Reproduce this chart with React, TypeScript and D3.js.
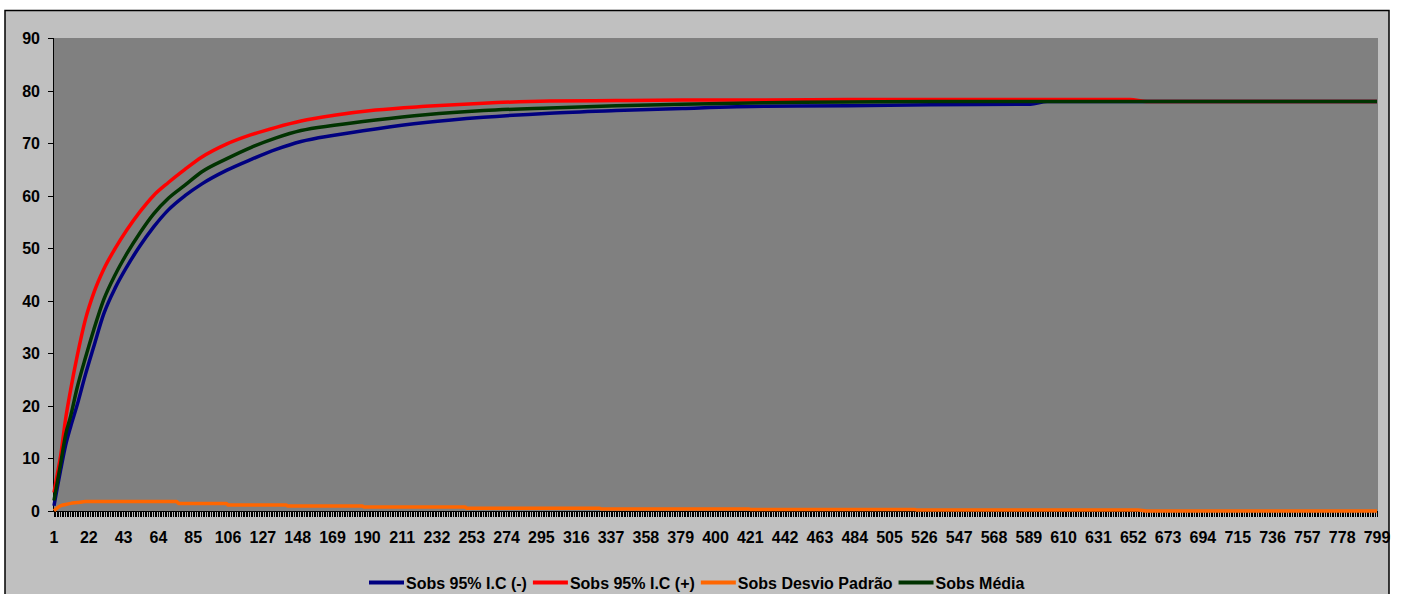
import React, { useEffect, useRef } from 'react';
import * as d3 from 'd3';

const sampleIdx = [1, 3, 5, 8, 11, 15, 20, 25, 31, 38, 45, 53, 61, 70, 80, 90, 105, 120, 135, 150, 170, 195, 225, 260, 300, 340, 380, 430, 480, 530, 590, 600, 650, 660, 720, 799];

const icLower = [1, 4.5, 7.8, 12.5, 16, 20.2, 26, 31.3, 37.5, 42.5, 46.5, 50.5, 54, 57.3, 60, 62.2, 64.8, 66.9, 68.8, 70.3, 71.5, 72.7, 73.9, 74.9, 75.7, 76.2, 76.6, 77, 77.1, 77.3, 77.4, 77.9, 77.9, 77.9, 77.9, 77.9];

const icUpper = [3.5, 7, 10.5, 17.5, 23, 29.5, 36.5, 41.5, 46, 50, 53.5, 57, 60, 62.5, 65, 67.3, 69.8, 71.6, 73, 74.2, 75.3, 76.3, 77, 77.6, 78, 78.1, 78.2, 78.2, 78.3, 78.3, 78.3, 78.3, 78.3, 77.9, 77.9, 77.9];

const sobsMean = [2, 5.5, 9, 14.5, 18, 23.5, 29.2, 34.5, 40.2, 45, 49, 53, 56.5, 59.5, 62, 64.5, 67, 69.2, 71, 72.4, 73.4, 74.4, 75.4, 76.2, 76.7, 77.1, 77.4, 77.7, 77.8, 77.9, 77.9, 77.9, 77.9, 77.9, 77.9, 77.9];

// standard deviation has its own steps
const sdIdx = [1, 3, 5, 8, 11, 15, 20, 75, 76, 105, 106, 141, 142, 187, 188, 249, 250, 330, 331, 420, 421, 520, 521, 655, 660, 799];
const sdVals = [0.05, 0.6, 1.0, 1.25, 1.45, 1.6, 1.8, 1.8, 1.45, 1.45, 1.15, 1.15, 0.95, 0.95, 0.76, 0.76, 0.5, 0.5, 0.4, 0.4, 0.3, 0.3, 0.2, 0.2, 0, 0];

const yTicks = [0, 10, 20, 30, 40, 50, 60, 70, 80, 90];
const categoryCount = 799;
const labelStep = 21;

const seriesNames = ['Sobs 95% I.C (-)', 'Sobs 95% I.C (+)', 'Sobs Desvio Padrão', 'Sobs Média'];
const seriesColors = ['#000080', '#FF0000', '#FF6600', '#003300'];

const W = 1401;
const H = 594;
const FONT = '"Liberation Sans", Arial, sans-serif';

const App: React.FC = () => {
  const svgRef = useRef<SVGSVGElement>(null);

  useEffect(() => {
    if (!svgRef.current) return;
    const svg = d3.select(svgRef.current);
    svg.selectAll('*').remove();

    // page + chart area
    svg.append('rect').attr('width', W).attr('height', H).attr('fill', '#fff');
    svg.append('rect')
      .attr('x', 5).attr('y', 10.5)
      .attr('width', 1384).attr('height', 640)
      .attr('fill', '#C0C0C0')
      .attr('stroke', '#000')
      .attr('stroke-width', 1.5);

    const plotLeft = 53, plotRight = 1378, plotTop = 38, plotBottom = 511;

    const x = d3.scaleLinear().domain([1, categoryCount]).range([plotLeft + 1, plotRight - 1]);
    const y = d3.scaleLinear().domain([0, 90]).range([plotBottom, plotTop]);

    svg.append('rect')
      .attr('x', plotLeft).attr('y', plotTop)
      .attr('width', plotRight - plotLeft).attr('height', plotBottom - plotTop)
      .attr('fill', '#808080');

    // y axis
    const yAxis = svg.append('g');
    yAxis.append('line')
      .attr('x1', plotLeft + 0.5).attr('x2', plotLeft + 0.5)
      .attr('y1', plotTop).attr('y2', plotBottom)
      .attr('stroke', '#000');
    yTicks.forEach(t => {
      const yy = Math.round(y(t)) + 0.5;
      yAxis.append('line')
        .attr('x1', plotLeft - 5).attr('x2', plotLeft)
        .attr('y1', yy).attr('y2', yy)
        .attr('stroke', '#000');
      yAxis.append('text')
        .attr('x', 40).attr('y', y(t) + 6)
        .attr('text-anchor', 'end')
        .style('font-family', FONT)
        .style('font-weight', 'bold')
        .style('font-size', '16px')
        .style('fill', '#000')
        .text(t);
    });

    // x axis with a tick per category
    const xAxis = svg.append('g');
    xAxis.append('line')
      .attr('x1', plotLeft).attr('x2', plotRight)
      .attr('y1', plotBottom + 0.5).attr('y2', plotBottom + 0.5)
      .attr('stroke', '#000');
    xAxis.selectAll('line.tick')
      .data(d3.range(1, categoryCount + 1))
      .join('line')
      .attr('class', 'tick')
      .attr('x1', d => x(d)).attr('x2', d => x(d))
      .attr('y1', plotBottom).attr('y2', plotBottom + 6)
      .attr('stroke', '#000')
      .attr('stroke-width', 1)
      .attr('shape-rendering', 'crispEdges');
    xAxis.selectAll('text')
      .data(d3.range(1, categoryCount + 1, labelStep))
      .join('text')
      .attr('x', d => x(d))
      .attr('y', 543)
      .attr('text-anchor', 'middle')
      .style('font-family', FONT)
      .style('font-weight', 'bold')
      .style('font-size', '16px')
      .style('fill', '#000')
      .text(d => d);

    // series lines
    const line = d3.line<[number, number]>()
      .x(d => x(d[0]))
      .y(d => y(d[1]))
      .curve(d3.curveMonotoneX);

    const seriesData: [number, number][][] = [
      sampleIdx.map((c, i) => [c, icLower[i]]),
      sampleIdx.map((c, i) => [c, icUpper[i]]),
      sdIdx.map((c, i) => [c, sdVals[i]]),
      sampleIdx.map((c, i) => [c, sobsMean[i]])
    ];

    const lines = svg.append('g');
    seriesData.forEach((pts, i) => {
      lines.append('path')
        .attr('d', line(pts) as string)
        .attr('fill', 'none')
        .attr('stroke', seriesColors[i])
        .attr('stroke-width', 3.5)
        .attr('stroke-linejoin', 'round');
    });

    // legend, centred under the chart
    const legend = svg.append('g');
    let cursor = 0;
    const legendY = 582.5;
    seriesNames.forEach((name, i) => {
      legend.append('line')
        .attr('x1', cursor).attr('x2', cursor + 35)
        .attr('y1', legendY).attr('y2', legendY)
        .attr('stroke', seriesColors[i])
        .attr('stroke-width', 4);
      const txt = legend.append('text')
        .attr('x', cursor + 37)
        .attr('y', legendY + 6)
        .style('font-family', FONT)
        .style('font-weight', 'bold')
        .style('font-size', '16px')
        .style('fill', '#000')
        .text(name);
      const w = (txt.node() as SVGTextElement).getComputedTextLength();
      cursor += 37 + w + 6;
    });
    const legendWidth = cursor - 6;
    legend.attr('transform', `translate(${Math.round(697 - legendWidth / 2)},0)`);
  }, []);

  return (
    <svg
      ref={svgRef}
      width={W}
      height={H}
      style={{ position: 'absolute', left: 0, top: 0, display: 'block' }}
    />
  );
};

export default App;
